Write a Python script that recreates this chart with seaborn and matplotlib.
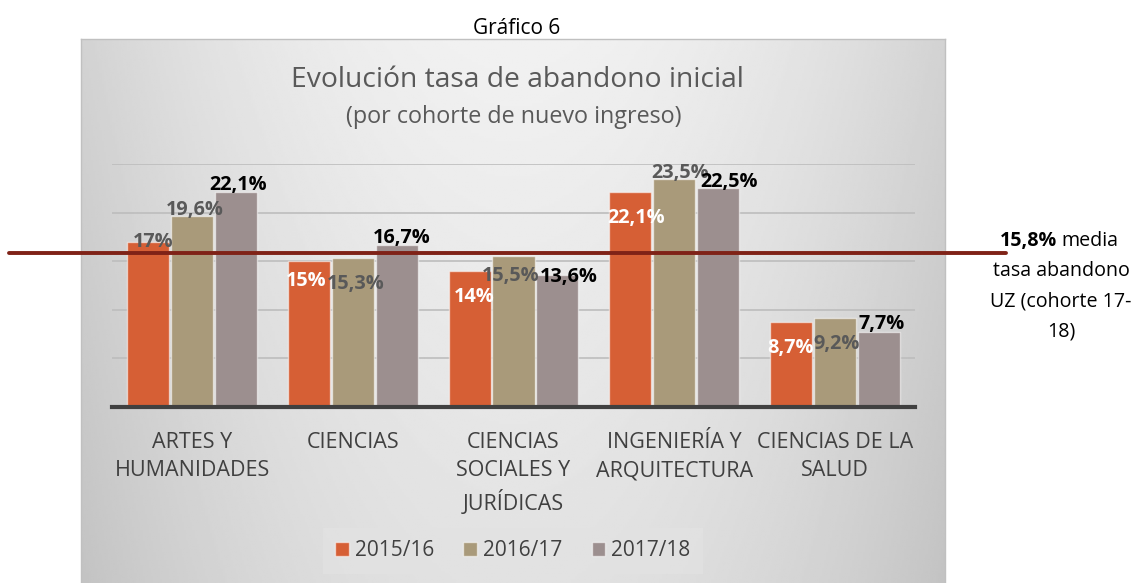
import numpy as np
import pandas as pd
import seaborn as sns
import matplotlib.pyplot as plt
import matplotlib.transforms as mtransforms

# Data
areas = ['ARTES Y\nHUMANIDADES', 'CIENCIAS', 'CIENCIAS\nSOCIALES Y\nJURÍDICAS',
         'INGENIERÍA Y\nARQUITECTURA', 'CIENCIAS DE LA\nSALUD']
cursos = ['2015/16', '2016/17', '2017/18']
tasa_1516 = [17.0, 15.0, 14.0, 22.1, 8.7]
tasa_1617 = [19.6, 15.3, 15.5, 23.5, 9.2]
tasa_1718 = [22.1, 16.7, 13.6, 22.5, 7.7]
etiq_1516 = ['17%', '15%', '14%', '22,1%', '8,7%']
etiq_1617 = ['19,6%', '15,3%', '15,5%', '23,5%', '9,2%']
etiq_1718 = ['22,1%', '16,7%', '13,6%', '22,5%', '7,7%']
media_uz = 15.8

df = pd.DataFrame({
    'area': areas * 3,
    'curso': np.repeat(cursos, len(areas)),
    'tasa': tasa_1516 + tasa_1617 + tasa_1718,
})

sns.set_style('white')
plt.rcParams['font.family'] = ['Open Sans', 'DejaVu Sans']

colores = {'2015/16': '#D65F35', '2016/17': '#A99A7A', '2017/18': '#9C8F8F'}

fig = plt.figure(figsize=(11.39, 5.83), dpi=100)
W, H = 1139, 583

# gradient panel behind the chart
bg = fig.add_axes([81 / W, 0, 864 / W, (H - 39) / H], zorder=-5)
xx, yy = np.meshgrid(np.linspace(0, 1, 400), np.linspace(0, 1, 200))
grad = 0.945 - 0.12 * np.abs(2 * xx - 1) ** 2 - 0.06 * yy
bg.imshow(grad, cmap='gray', vmin=0, vmax=1, aspect='auto', extent=(0, 1, 1, 0))
bg.set_xticks([])
bg.set_yticks([])
for s in bg.spines.values():
    s.set_color('#c0c0c0')
    s.set_linewidth(1)
bg.spines['bottom'].set_visible(False)

ax = fig.add_axes([112 / W, 1 - 407 / H, 803 / W, (407 - 164) / H])
ax.set_facecolor('none')

sns.barplot(data=df, x='area', y='tasa', hue='curso', hue_order=cursos,
            order=areas, palette=colores, width=0.82, gap=0.04,
            edgecolor=(1, 1, 1, 0.55), linewidth=1, saturation=1, ax=ax,
            legend=False, zorder=2)

ax.set_ylim(0, 25)
ax.set_xlim(-0.5, 4.5)
ax.set_yticks([0, 5, 10, 15, 20, 25])
ax.set_yticklabels([])
ax.grid(axis='y', color='#bdbdbd', linewidth=1.2, zorder=0)
ax.set_axisbelow(True)
for s in ['top', 'right', 'left']:
    ax.spines[s].set_visible(False)
ax.spines['bottom'].set_color('#404040')
ax.spines['bottom'].set_linewidth(3)
ax.spines['bottom'].set_zorder(3)
ax.tick_params(axis='both', length=0)
ax.tick_params(axis='x', pad=18, labelsize=15.5, labelcolor='#404040')
for lbl in ax.get_xticklabels():
    lbl.set_linespacing(1.45)
ax.set_xlabel('')
ax.set_ylabel('')

# data labels (offsets in pixels from top-centre of each bar)
etiquetas = [etiq_1516, etiq_1617, etiq_1718]
offsets = [
    [(5, 0), (-3, -20), (5, -26), (6, -26), (0, -26)],
    [(2, 6), (3, -26), (-3, -20), (6, 6), (2, -26)],
    [(2, 7), (5, 7), (11, -2), (11, 6), (3, 8)],
]
col_lbl = [
    ['#595959', 'white', 'white', 'white', 'white'],
    ['#595959'] * 5,
    ['black'] * 5,
]
for k, cont in enumerate(ax.containers):
    for i, bar in enumerate(cont):
        xc = bar.get_x() + bar.get_width() / 2
        ax.annotate(etiquetas[k][i], (xc, bar.get_height()),
                    xytext=offsets[k][i], textcoords='offset pixels',
                    ha='center', va='center', fontsize=14.3, fontweight='bold',
                    color=col_lbl[k][i], zorder=5)

# average line across the figure
trans = mtransforms.blended_transform_factory(fig.transFigure, ax.transData)
ax.plot([9 / W, 1006 / W], [media_uz, media_uz], transform=trans,
        color='#7F2217', linewidth=2.8, clip_on=False, zorder=4)

# titles
fig.text(517 / W, 1 - 28 / H, 'Gráfico 6', ha='center', va='center',
         fontsize=15, color='black')
fig.text(517 / W, 1 - 80 / H, 'Evolución tasa de abandono inicial',
         ha='center', va='center', fontsize=20.3, color='#595959')
fig.text(514 / W, 1 - 117 / H, '(por cohorte de nuevo ingreso)',
         ha='center', va='center', fontsize=16.8, color='#595959')

# side note
fig.text(1057 / W, 1 - 241 / H, '15,8%', ha='right', va='center',
         fontsize=14.1, fontweight='bold', color='black')
fig.text(1061 / W, 1 - 241 / H, 'media', ha='left', va='center',
         fontsize=14.1, color='black')
for j, linea in enumerate(['tasa abandono', 'UZ (cohorte 17-', '18)']):
    fig.text(1061 / W, 1 - (271 + 30 * j) / H, linea, ha='center',
             va='center', fontsize=14.1, color='black')

# legend
handles = [plt.Rectangle((0, 0), 1, 1, facecolor=colores[c],
                         edgecolor=(1, 1, 1, 0.55)) for c in cursos]
leg = fig.legend(handles, cursos, loc='center', ncol=3,
                 bbox_to_anchor=(513 / W, 1 - 551 / H), fontsize=15,
                 frameon=True, handlelength=0.65, handleheight=0.65,
                 handletextpad=0.3, columnspacing=1.4, borderpad=0.6)
leg.get_frame().set_facecolor('#e2e2e2')
leg.get_frame().set_edgecolor('none')
leg.get_frame().set_boxstyle('square', pad=0)
for t in leg.get_texts():
    t.set_color('#404040')

fig.savefig('out.png', dpi=100)
